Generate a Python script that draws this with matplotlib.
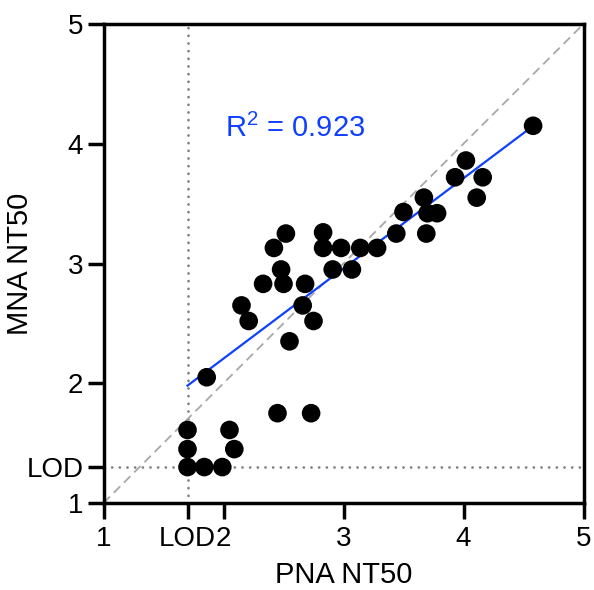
import numpy as np
import matplotlib
matplotlib.use('Agg')
import matplotlib.pyplot as plt

plt.rcParams['font.family'] = ['Liberation Sans', 'DejaVu Sans']
plt.rcParams['mathtext.fontset'] = 'custom'
plt.rcParams['mathtext.rm'] = 'Liberation Sans'
plt.rcParams['mathtext.it'] = 'Liberation Sans'

# log10 NT50 values
pna = [2.52, 2.83, 2.42, 2.83, 2.98, 3.14, 3.28, 2.48, 2.91, 3.07,
       2.33, 2.50, 2.68, 2.15, 2.66, 2.21, 2.75, 2.55, 1.86, 2.45,
       2.73, 1.70, 2.05, 1.70, 2.09, 1.70, 1.84, 1.99, 4.58, 4.02,
       3.93, 4.16, 4.11, 3.67, 3.50, 3.70, 3.78, 3.44, 3.69]
mna = [3.25, 3.26, 3.13, 3.13, 3.13, 3.13, 3.13, 2.95, 2.95, 2.95,
       2.83, 2.83, 2.83, 2.65, 2.65, 2.52, 2.52, 2.35, 2.05, 1.75,
       1.75, 1.61, 1.61, 1.45, 1.45, 1.30, 1.30, 1.30, 4.15, 3.86,
       3.72, 3.72, 3.55, 3.55, 3.43, 3.42, 3.42, 3.25, 3.25]
lod_x = 1.7
lod_y = 1.3
# regression line as shown in the figure
fit_slope = 0.753
fit_icpt = 0.70
r2_text = r'R$^2$ = 0.923'

pna = np.array(pna)
mna = np.array(mna)

fig = plt.figure(figsize=(5.94, 5.90), dpi=100)
ax = fig.add_axes([103.5 / 594, 1 - 503 / 590, 480 / 594, 479 / 590])

# limits of detection (round dots)
dots = (0, (0.01, 2.75))
ax.plot([lod_x, lod_x], [1, 5], color='#808080', lw=2.0, ls=dots,
        dash_capstyle='round', zorder=1)
ax.plot([1, 5], [lod_y, lod_y], color='#808080', lw=2.0, ls=dots,
        dash_capstyle='round', zorder=1)
# identity line
ax.plot([1, 5], [1, 5], color='#a8a8a8', lw=1.3, ls=(0, (5, 3)), zorder=1)

xf = np.array([pna.min(), pna.max()])
ax.plot(xf, fit_slope * xf + fit_icpt, color='#1040ff', lw=1.6, zorder=2)

ax.scatter(pna, mna, s=180, color='black', edgecolors='none', zorder=3)

ax.text(2.01, 4.06, r2_text, color='#1040ff', fontsize=21, ha='left', va='baseline')

ax.set_xlim(1, 5)
ax.set_ylim(1, 5)
ax.set_xticks([1, lod_x, 2, 3, 4, 5])
ax.set_xticklabels(['1', 'LOD', '2', '3', '4', '5'])
ax.set_yticks([1, lod_y, 2, 3, 4, 5])
ax.set_yticklabels(['1', 'LOD', '2', '3', '4', '5'])
ax.tick_params(direction='out', length=11.5, width=2.5, labelsize=20, colors='black')
ax.tick_params(axis='x', pad=5)
ax.tick_params(axis='y', pad=3)
for s in ax.spines.values():
    s.set_linewidth(2.5)

ax.set_xlabel('PNA NT50', fontsize=21)
ax.set_ylabel('MNA NT50', fontsize=21)
ax.xaxis.set_label_coords(0.5, -0.122)
ax.yaxis.set_label_coords(-0.145, 0.5)

fig.savefig('out.png', dpi=100)
